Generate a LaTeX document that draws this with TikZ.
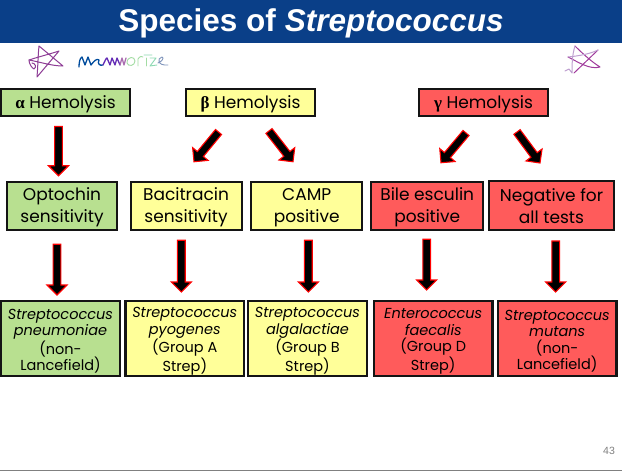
\documentclass[tikz,border=0pt]{standalone}
\usepackage{fontspec}
\setmainfont{Poppins}
\newfontfamily\titlefont{Liberation Sans}
\newfontfamily\greekfont{Liberation Serif}
\usetikzlibrary{calc}
\definecolor{barblue}{HTML}{0A3F88}
\definecolor{hgreen}{HTML}{B8E090}
\definecolor{hyellow}{HTML}{FFFF99}
\definecolor{hred}{HTML}{FF5B5B}
\definecolor{inkpurple}{HTML}{8E3D96}
\definecolor{inkmag}{HTML}{A03A9C}
\definecolor{inklight}{HTML}{BFA0D0}
\tikzset{
  hbox/.style={draw=black!92,line width=2pt,inner sep=0pt,align=center,text=black,font=\fontsize{17}{22}\selectfont},
  headbox/.style={hbox,minimum width=129pt,minimum height=27pt},
  testbox/.style={hbox},
  spbox/.style={hbox,line width=2.4pt,font=\fontsize{14.5}{16.6}\selectfont},
  ink/.style={line width=1pt,line cap=round,line join=round,draw=inkpurple},
  fat/.style={draw=red,line width=1.1pt,fill=black,miter limit=6,
    to path={let \p1=(\tikztostart),\p2=(\tikztotarget),
      \p3=($(\p2)!10pt!(\p1)$),
      \p4=($(\p1)!3.9pt!90:(\p2)$),\p5=($(\p1)!3.9pt!-90:(\p2)$),
      \p6=($(\p3)!3.9pt!-90:(\p2)$),\p7=($(\p3)!3.9pt!90:(\p2)$),
      \p8=($(\p3)!10pt!-90:(\p2)$),\p9=($(\p3)!10pt!90:(\p2)$)
      in (\p4) -- (\p5) -- (\p6) -- (\p8) -- (\p2) -- (\p9) -- (\p7) -- cycle}}
}
\newcommand{\gk}[1]{{\greekfont\bfseries #1}}
\newcommand{\tophead}{\rule{0pt}{16pt}}
\newcommand{\toptest}{\rule{0pt}{15pt}}
\newcommand{\topsp}{\rule{0pt}{15.5pt}}
\begin{document}
\begin{tikzpicture}[x=1pt,y=-1pt]
\useasboundingbox (0,0) rectangle (622,471);
\fill[white] (0,0) rectangle (622,471);
\fill[barblue] (0,0) rectangle (622,43);
\node[text=white,font=\fontsize{31.5}{34}\selectfont\titlefont\bfseries] (title) at (311,23.5) {Species of \textit{Streptococcus}};
\draw[gray,line width=1pt] (0,470.5) -- (622,470.5);
\node[text=gray,font=\fontsize{10.5}{12}\selectfont\titlefont] (pagenum) at (609,450.5) {43};
% heads
\node[headbox,fill=hgreen] (alpha) at (65.5,102.5) {\tophead\gk{α} Hemolysis};
\node[headbox,fill=hyellow] (beta) at (250.5,102.5) {\tophead\gk{β} Hemolysis};
\node[headbox,fill=hred] (gamma) at (483.5,102.5) {\tophead\gk{γ} Hemolysis};
% tests
\node[testbox,fill=hgreen,minimum width=110.5pt,minimum height=48.5pt] (opto) at (62,206) {\toptest Optochin\\sensitivity};
\node[testbox,fill=hyellow,minimum width=111pt,minimum height=48.5pt] (baci) at (186,206) {\toptest Bacitracin\\sensitivity};
\node[testbox,fill=hyellow,minimum width=110.5pt,minimum height=48.5pt] (camp) at (306.7,206) {\toptest CAMP\\positive};
\node[testbox,fill=hred,minimum width=111.5pt,minimum height=48.5pt] (bile) at (427.2,206) {\toptest Bile esculin\\positive};
\node[testbox,fill=hred,minimum width=125pt,minimum height=49pt] (neg) at (551.5,205.5) {\toptest Negative for\\all tests};
% species
\node[spbox,fill=hgreen,minimum width=118.6pt,minimum height=74.6pt] (pneu) at (60.5,338.5) {\topsp\textit{Streptococcus}\\\textit{pneumoniae}\\(non-\\Lancefield)};
\node[spbox,fill=hyellow,minimum width=118.6pt,minimum height=74.6pt] (pyo) at (184.8,338.5) {\topsp\textit{Streptococcus}\\\textit{pyogenes}\\(Group A\\Strep)};
\node[spbox,fill=hyellow,minimum width=118.6pt,minimum height=74.6pt] (alga) at (307.5,338.5) {\topsp\textit{Streptococcus}\\\textit{algalactiae}\\(Group B\\Strep)};
\node[spbox,fill=hred,minimum width=118.6pt,minimum height=74.6pt] (ente) at (433.2,338.5) {\topsp\textit{Enterococcus}\\\textit{faecalis}\\(Group D\\Strep)};
\node[spbox,fill=hred,minimum width=118.6pt,minimum height=74.6pt] (muta) at (557.2,338.5) {\topsp\textit{Streptococcus}\\\textit{mutans}\\(non-\\Lancefield)};
% arrows
\draw[fat] ([xshift=-7pt,yshift=-9.5pt]alpha.south) to ([xshift=-3.5pt,yshift=5pt]opto.north);
\draw[fat] ([xshift=-32pt,yshift=-15pt]beta.south) to ([xshift=8pt,yshift=19pt]baci.north);
\draw[fat] ([xshift=18.5pt,yshift=-14pt]beta.south) to ([xshift=-13.7pt,yshift=19pt]camp.north);
\draw[fat] ([xshift=-17.5pt,yshift=-16pt]gamma.south) to ([xshift=13.8pt,yshift=18pt]bile.north);
\draw[fat] ([xshift=33.5pt,yshift=-15pt]gamma.south) to ([xshift=-11.5pt,yshift=17pt]neg.north);
\draw[fat] ([xshift=-5pt,yshift=-13pt]opto.south) to ([xshift=-3.5pt,yshift=5pt]pneu.north);
\draw[fat] ([xshift=-4.7pt,yshift=-9pt]baci.south) to ([xshift=-3.5pt,yshift=8pt]pyo.north);
\draw[fat] ([xshift=1.6pt,yshift=-9pt]camp.south) to ([xshift=.8pt,yshift=8pt]alga.north);
\draw[fat] ([xshift=-.5pt,yshift=-8pt]bile.south) to ([xshift=-6.5pt,yshift=10pt]ente.north);
\draw[fat] ([xshift=4.2pt,yshift=-10pt]neg.south) to ([xshift=-1.5pt,yshift=8pt]muta.north);
% ink, left star
\draw[ink] (37,77) .. controls (38,65) and (38,55) .. (39,46) -- (63,66) .. controls (52,66) and (40,62) .. (29,60) .. controls (38,57) and (50,54) .. (59,51) -- (37,77);
\draw[ink] (29,60) .. controls (29,64) and (32,68) .. (34,69) .. controls (37,67) and (35,63) .. (32,63);
% ink, right star
\draw[ink,draw=inkmag] (598,50) -- (574,73);
\draw[ink,draw=inkmag] (575,46) .. controls (583,54) and (592,62) .. (600,67) .. controls (590,70) and (578,62) .. (568,57);
\draw[ink,draw=inklight] (568,57) .. controls (578,56) and (590,54) .. (598,50);
\draw[ink,draw=inklight] (575,46) .. controls (572,55) and (572,66) .. (572,73) -- (569,69) -- (565,71);
% ink, handwriting
\draw[ink,draw=blue!45!black!70!cyan,line width=1.3pt] (79,67) .. controls (79,62) and (80,58) .. (82,57) -- (85,65) -- (88,57) -- (91,65) .. controls (94,61) and (97,58) .. (99,60) .. controls (97,64) and (100,66) .. (103,65);
\draw[ink,draw=inkpurple!70!blue,line width=1.3pt] (103,65) .. controls (105,61) and (106,58) .. (107,58) -- (110,65) -- (112,58) -- (115,65) -- (117,58) -- (120,65);
\draw[ink,draw=inkpurple!75,line width=1.3pt] (120,65) -- (122,58) -- (124,65) -- (126,58);
\draw[ink,draw=green!45!gray!50,line width=.9pt] (127,63) .. controls (127,56) and (135,56) .. (135,61) .. controls (135,66) and (128,67) .. (127,63);
\draw[ink,draw=green!45!gray!50,line width=.9pt] (138,66) -- (138,59) .. controls (140,56) and (142,56) .. (143,57);
\draw[ink,draw=green!45!gray!50,line width=.9pt] (146,58) -- (146,66);
\draw[ink,draw=green!50!cyan!50!gray!60,line width=.9pt] (144,55) -- (152,55) (150,58) -- (156,58) -- (150,66) -- (157,65);
\draw[ink,draw=cyan!50!blue!50!gray!80,line width=.9pt] (158,63) .. controls (161,62) and (165,58) .. (162,57) .. controls (157,58) and (157,66) .. (168,65);
\end{tikzpicture}
\end{document}
